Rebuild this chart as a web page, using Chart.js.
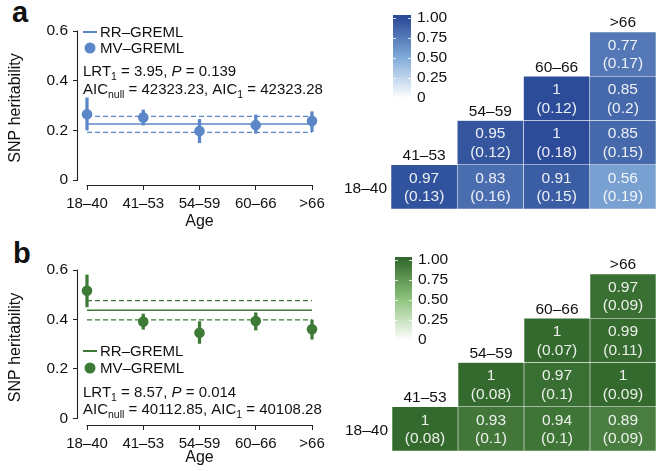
<!DOCTYPE html>
<html>
<head>
<meta charset="utf-8">
<script src="https://cdn.jsdelivr.net/npm/chart.js@4.4.0/dist/chart.umd.min.js"></script>
<style>
  body { margin: 0; background: #fff; width: 662px; height: 471px; position: relative; overflow: hidden; font-family: "Liberation Sans", Arial, sans-serif; }
  canvas { position: absolute; }
  .tag { position: absolute; font-weight: bold; font-size: 29px; line-height: 29px; color: #111; }
</style>
</head>
<body>
<div class="tag" style="left:12px;top:-2px">a</div>
<div class="tag" style="left:13px;top:239px">b</div>
<canvas id="heritA" width="340" height="240" style="left:0;top:0"></canvas>
<canvas id="corrA" width="322" height="240" style="left:340px;top:0"></canvas>
<canvas id="heritB" width="340" height="231" style="left:0;top:240px"></canvas>
<canvas id="corrB" width="322" height="231" style="left:340px;top:240px"></canvas>
<script>
const FONT = '"Liberation Sans", Arial, sans-serif';
const ageGroups = ['18–40', '41–53', '54–59', '60–66', '>66'];
const heritTicks = [0, 0.2, 0.4, 0.6];
const legendLabels = ['RR–GREML', 'MV–GREML'];

// panel a (blue)
const mvHeritA = [0.265, 0.252, 0.197, 0.221, 0.238];
const mvLowA = [0.201, 0.221, 0.150, 0.188, 0.195];
const mvHighA = [0.331, 0.282, 0.244, 0.262, 0.275];
const rrHeritA = 0.2255, rrLowA = 0.192, rrHighA = 0.2565;
const noteLrtA = [{ t: 'LRT' }, { t: '1', sub: true }, { t: ' = 3.95, ' }, { t: 'P', it: true }, { t: ' = 0.139' }];
const noteAicA = [{ t: 'AIC' }, { t: 'null', sub: true }, { t: ' = 42323.23, AIC' }, { t: '1', sub: true }, { t: ' = 42323.28' }];

// panel b (green)
const mvHeritB = [0.516, 0.391, 0.346, 0.394, 0.360];
const mvLowB = [0.451, 0.360, 0.303, 0.357, 0.320];
const mvHighB = [0.580, 0.422, 0.391, 0.427, 0.398];
const rrHeritB = 0.437, rrLowB = 0.398, rrHighB = 0.476;
const noteLrtB = [{ t: 'LRT' }, { t: '1', sub: true }, { t: ' = 8.57, ' }, { t: 'P', it: true }, { t: ' = 0.014' }];
const noteAicB = [{ t: 'AIC' }, { t: 'null', sub: true }, { t: ' = 40112.85, AIC' }, { t: '1', sub: true }, { t: ' = 40108.28' }];

// genetic correlation matrices (rows 18–40.., cols 41–53..)
const corrRows = ageGroups.slice(0, 4);
const corrCols = ageGroups.slice(1);
const corrValA = [[0.97, 0.83, 0.91, 0.56], [null, 0.95, 1, 0.85], [null, null, 1, 0.85], [null, null, null, 0.77]];
const corrSeA = [[0.13, 0.16, 0.15, 0.19], [null, 0.12, 0.18, 0.15], [null, null, 0.12, 0.2], [null, null, null, 0.17]];
const corrValB = [[1, 0.93, 0.94, 0.89], [null, 1, 0.97, 1], [null, null, 1, 0.99], [null, null, null, 0.97]];
const corrSeB = [[0.08, 0.1, 0.1, 0.09], [null, 0.08, 0.1, 0.09], [null, null, 0.07, 0.11], [null, null, null, 0.09]];
const barTicks = [0, 0.25, 0.5, 0.75, 1];
const barTickLabels = ['0', '0.25', '0.50', '0.75', '1.00'];

const blueStops = [[0, '#ffffff'], [0.5, '#82acd8'], [1, '#2c4c99']];
const greenStops = [[0, '#ffffff'], [0.5, '#8fc47e'], [1, '#356a2e']];

function hexRgb(h) {
  return [1, 3, 5].map(i => parseInt(h.substr(i, 2), 16));
}
function rampColor(stops, v) {
  for (let i = 1; i < stops.length; i++) {
    if (v <= stops[i][0]) {
      const t = (v - stops[i - 1][0]) / (stops[i][0] - stops[i - 1][0]);
      const a = hexRgb(stops[i - 1][1]), b = hexRgb(stops[i][1]);
      return 'rgb(' + a.map((x, k) => Math.round(x + (b[k] - x) * t)).join(',') + ')';
    }
  }
  return stops[stops.length - 1][1];
}

function drawRich(ctx, x, y, parts) {
  parts.forEach(p => {
    ctx.font = (p.it ? 'italic ' : '') + (p.sub ? 10.5 : 15) + 'px ' + FONT;
    ctx.fillText(p.t, x, p.sub ? y + 4 : y);
    x += ctx.measureText(p.t).width;
  });
}

function makeHerit(id, est, low, high, rr, rrLow, rrHigh, color, geo, notes) {
  const tickFont = { family: FONT, size: 15.5 };
  const titleFont = { family: FONT, size: 16 };
  const lastX = ageGroups.length - 1;
  new Chart(document.getElementById(id), {
    type: 'scatter',
    data: {
      datasets: [
        { data: est.map((v, i) => ({ x: i, y: v })), backgroundColor: color, borderWidth: 0, pointRadius: 5.3 },
        { type: 'bar', data: est.map((v, i) => ({ x: i, y: [low[i], high[i]] })), backgroundColor: color, barThickness: 2.6 },
        { type: 'line', data: [{ x: 0, y: rr }, { x: lastX, y: rr }], borderColor: color, borderWidth: 1.6, pointRadius: 0 },
        { type: 'line', data: [{ x: 0, y: rrLow }, { x: lastX, y: rrLow }], borderColor: color, borderWidth: 1.3, borderDash: [5, 3], pointRadius: 0 },
        { type: 'line', data: [{ x: 0, y: rrHigh }, { x: lastX, y: rrHigh }], borderColor: color, borderWidth: 1.3, borderDash: [5, 3], pointRadius: 0 }
      ]
    },
    options: {
      responsive: false,
      animation: false,
      events: [],
      layout: { padding: { top: geo.top, right: 19, left: 0, bottom: 0 } },
      plugins: { legend: { display: false }, tooltip: { enabled: false } },
      scales: {
        x: {
          type: 'linear', min: -0.16, max: lastX + 0.16, offset: false,
          afterBuildTicks: s => { s.ticks = ageGroups.map((g, i) => ({ value: i })); },
          afterFit: s => { s.height = geo.xHeight; },
          ticks: { callback: v => ageGroups[v], font: { family: FONT, size: 15 }, color: '#111', padding: 5, autoSkip: false, maxRotation: 0 },
          grid: { offset: false, drawOnChartArea: false, drawTicks: true, tickLength: 5, color: '#222' },
          border: { display: false },
          title: { display: true, text: 'Age', font: titleFont, color: '#111', padding: { top: 0, bottom: geo.agePad } }
        },
        y: {
          min: geo.yMin, max: 0.6,
          afterBuildTicks: s => { s.ticks = heritTicks.map(v => ({ value: v })); },
          afterFit: s => { s.width = 78; },
          ticks: { callback: v => String(v), font: tickFont, color: '#111', padding: 5 },
          grid: { drawOnChartArea: false, drawTicks: true, tickLength: 5, color: '#222' },
          border: { display: false },
          title: { display: true, text: 'SNP heritability', font: titleFont, color: '#111', padding: { top: 6, bottom: 0 } }
        }
      }
    },
    plugins: [{
      id: 'axesAndNotes',
      afterDraw(chart) {
        const ctx = chart.ctx, ca = chart.chartArea;
        const xs = chart.scales.x, ys = chart.scales.y;
        ctx.save();
        ctx.strokeStyle = '#222';
        ctx.lineWidth = 1.1;
        ctx.beginPath();
        ctx.moveTo(ca.left - 0.5, ys.getPixelForValue(heritTicks[0]) + 0.5);
        ctx.lineTo(ca.left - 0.5, ys.getPixelForValue(heritTicks[heritTicks.length - 1]) - 0.5);
        ctx.moveTo(xs.getPixelForValue(0) - 0.5, ca.bottom + 0.5);
        ctx.lineTo(xs.getPixelForValue(lastX) + 0.5, ca.bottom + 0.5);
        ctx.stroke();

        // legend
        ctx.strokeStyle = color;
        ctx.lineWidth = 2;
        ctx.beginPath();
        ctx.moveTo(83, geo.legY[0]);
        ctx.lineTo(97, geo.legY[0]);
        ctx.stroke();
        ctx.fillStyle = color;
        ctx.beginPath();
        ctx.arc(90, geo.legY[1], 5.5, 0, Math.PI * 2);
        ctx.fill();
        ctx.fillStyle = '#111';
        ctx.font = '15px ' + FONT;
        ctx.textBaseline = 'middle';
        ctx.fillText(legendLabels[0], 100, geo.legY[0] + 1);
        ctx.fillText(legendLabels[1], 100, geo.legY[1] + 1);

        ctx.textBaseline = 'alphabetic';
        drawRich(ctx, 83, geo.noteY[0] + 5.5, notes[0]);
        drawRich(ctx, 83, geo.noteY[1] + 5.5, notes[1]);
        ctx.restore();
      }
    }]
  });
}

function makeCorr(id, vals, ses, stops, geo) {
  const datasets = corrRows.map((row, r) => ({
    data: corrCols.map((col, c) => c >= r ? [r, r + 1] : null),
    backgroundColor: corrCols.map((col, c) => c >= r ? rampColor(stops, vals[r][c]) : 'rgba(0,0,0,0)'),
    borderColor: 'rgba(255,255,255,0.25)',
    borderWidth: 0.6,
    borderSkipped: false,
    grouped: false,
    barPercentage: 1,
    categoryPercentage: 1
  }));
  new Chart(document.getElementById(id), {
    type: 'bar',
    data: { labels: corrCols, datasets },
    options: {
      responsive: false,
      animation: false,
      events: [],
      layout: { padding: geo.padding },
      plugins: { legend: { display: false }, tooltip: { enabled: false } },
      scales: {
        x: { display: false },
        y: { display: false, min: 0, max: corrRows.length }
      }
    },
    plugins: [{
      id: 'cellText',
      afterDatasetsDraw(chart) {
        const ctx = chart.ctx, ca = chart.chartArea;
        ctx.save();
        ctx.font = '15.5px ' + FONT;
        ctx.textAlign = 'center';
        ctx.textBaseline = 'middle';
        corrRows.forEach((row, r) => {
          const meta = chart.getDatasetMeta(r);
          corrCols.forEach((col, c) => {
            if (c < r) return;
            const el = meta.data[c];
            const cy = (el.y + el.base) / 2;
            ctx.fillStyle = 'rgba(255,255,255,0.9)';
            ctx.fillText(String(vals[r][c]), el.x, cy - 8.5);
            ctx.fillText('(' + ses[r][c] + ')', el.x, cy + 10);
          });
        });
        ctx.fillStyle = '#111';
        corrCols.forEach((col, c) => {
          const el = chart.getDatasetMeta(c).data[c];
          ctx.fillText(col, el.x, el.y - 9);
        });
        const el0 = chart.getDatasetMeta(0).data[0];
        ctx.textAlign = 'right';
        ctx.fillText(corrRows[0], ca.left - 4, (el0.y + el0.base) / 2 + 2);

        // colour bar
        const b = geo.bar;
        const pix = v => b.y0 + (b.y1 - b.y0) * v;
        const grad = ctx.createLinearGradient(0, pix(0), 0, pix(1));
        stops.forEach(s => grad.addColorStop(s[0], s[1]));
        ctx.fillStyle = grad;
        ctx.fillRect(b.x, b.top, b.w, pix(0) - b.top);
        ctx.strokeStyle = 'rgba(255,255,255,0.8)';
        ctx.lineWidth = 1;
        ctx.beginPath();
        barTicks.forEach(v => {
          const y = Math.round(pix(v)) + 0.5;
          ctx.moveTo(b.x, y); ctx.lineTo(b.x + 3, y);
          ctx.moveTo(b.x + b.w - 3, y); ctx.lineTo(b.x + b.w, y);
        });
        ctx.stroke();
        ctx.fillStyle = '#111';
        ctx.textAlign = 'left';
        barTicks.forEach((v, i) => ctx.fillText(barTickLabels[i], b.x + b.w + 6, pix(v)));
        ctx.restore();
      }
    }]
  });
}

makeHerit('heritA', mvHeritA, mvLowA, mvHighA, rrHeritA, rrLowA, rrHighA, '#5b87c8',
  { top: 31, xHeight: 55, yMin: -0.0201, agePad: 9, legY: [32, 48], noteY: [70, 88] }, [noteLrtA, noteAicA]);
makeHerit('heritB', mvHeritB, mvLowB, mvHighB, rrHeritB, rrLowB, rrHighB, '#3d7a36',
  { top: 30, xHeight: 46, yMin: -0.027, agePad: 4, legY: [111, 128], noteY: [151.7, 168.3] }, [noteLrtB, noteAicB]);
makeCorr('corrA', corrValA, corrSeA, blueStops,
  { padding: { left: 51, right: 6, top: 32, bottom: 31 }, bar: { x: 53, w: 18, top: 15, y0: 98, y1: 18 } });
makeCorr('corrB', corrValB, corrSeB, greenStops,
  { padding: { left: 52, right: 6, top: 34, bottom: 20 }, bar: { x: 55, w: 17, top: 17, y0: 100, y1: 19.5 } });
</script>
</body>
</html>
